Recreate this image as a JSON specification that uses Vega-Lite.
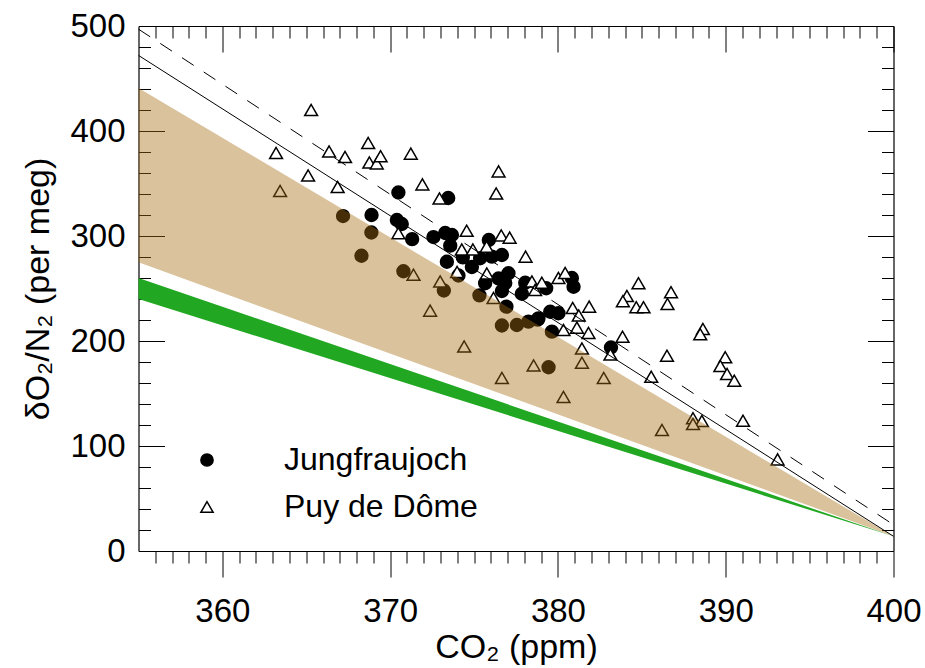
{
  "$schema": "https://vega.github.io/schema/vega-lite/v6.json",
  "autosize": {"type": "none"},
  "padding": {"left": 138.5, "top": 26, "right": 31.5, "bottom": 117},
  "width": 755,
  "height": 525,
  "config": {
    "font": "Liberation Sans",
    "view": {"stroke": null},
    "axis": {"grid": false, "tickColor": "black", "domainColor": "black", "labelColor": "black", "titleColor": "black", "titleFontWeight": "normal", "labelFont": "Liberation Sans", "titleFont": "Liberation Sans"},
    "legend": {"title": null, "orient": "none", "legendX": 52.5, "legendY": 418, "labelFontSize": 32, "labelFont": "Liberation Sans", "labelColor": "black", "labelOffset": 61, "labelLimit": 500, "rowPadding": 15, "symbolStrokeColor": "black", "symbolStrokeWidth": 1.5, "symbolSize": 150, "padding": 0}
  },
  "datasets": {
    "bands": [
      {"x": 355, "tanTop": 441, "tanBot": 275, "greenTop": 260, "greenBot": 240},
      {"x": 400, "tanTop": 14, "tanBot": 14, "greenTop": 14, "greenBot": 14}
    ],
    "lines": [
      {"x": 355, "y": 472, "line": "solid"},
      {"x": 400, "y": 14, "line": "solid"},
      {"x": 355, "y": 497, "line": "dashed"},
      {"x": 400, "y": 25, "line": "dashed"}
    ],
    "obs": [
      {"site": "Jungfraujoch", "ppm": 370.49, "d": 341.4},
      {"site": "Jungfraujoch", "ppm": 373.46, "d": 336.2},
      {"site": "Jungfraujoch", "ppm": 368.89, "d": 320.0},
      {"site": "Jungfraujoch", "ppm": 370.40, "d": 315.2},
      {"site": "Jungfraujoch", "ppm": 370.69, "d": 311.4},
      {"site": "Jungfraujoch", "ppm": 371.31, "d": 297.0},
      {"site": "Jungfraujoch", "ppm": 372.58, "d": 299.0},
      {"site": "Jungfraujoch", "ppm": 373.28, "d": 302.9},
      {"site": "Jungfraujoch", "ppm": 373.68, "d": 301.0},
      {"site": "Jungfraujoch", "ppm": 373.58, "d": 290.8},
      {"site": "Jungfraujoch", "ppm": 373.38, "d": 275.5},
      {"site": "Jungfraujoch", "ppm": 374.33, "d": 279.7},
      {"site": "Jungfraujoch", "ppm": 374.87, "d": 270.5},
      {"site": "Jungfraujoch", "ppm": 375.36, "d": 278.8},
      {"site": "Jungfraujoch", "ppm": 375.88, "d": 296.2},
      {"site": "Jungfraujoch", "ppm": 376.06, "d": 280.3},
      {"site": "Jungfraujoch", "ppm": 376.66, "d": 281.9},
      {"site": "Jungfraujoch", "ppm": 377.05, "d": 264.5},
      {"site": "Jungfraujoch", "ppm": 376.46, "d": 259.5},
      {"site": "Jungfraujoch", "ppm": 376.86, "d": 255.2},
      {"site": "Jungfraujoch", "ppm": 375.66, "d": 255.0},
      {"site": "Jungfraujoch", "ppm": 376.66, "d": 247.6},
      {"site": "Jungfraujoch", "ppm": 378.05, "d": 255.5},
      {"site": "Jungfraujoch", "ppm": 377.85, "d": 245.0},
      {"site": "Jungfraujoch", "ppm": 379.30, "d": 250.2},
      {"site": "Jungfraujoch", "ppm": 380.83, "d": 260.0},
      {"site": "Jungfraujoch", "ppm": 380.93, "d": 251.7},
      {"site": "Jungfraujoch", "ppm": 379.54, "d": 227.9},
      {"site": "Jungfraujoch", "ppm": 380.03, "d": 226.4},
      {"site": "Jungfraujoch", "ppm": 378.84, "d": 221.6},
      {"site": "Jungfraujoch", "ppm": 383.16, "d": 193.8},
      {"site": "Jungfraujoch", "ppm": 367.19, "d": 319.0},
      {"site": "Jungfraujoch", "ppm": 368.88, "d": 303.3},
      {"site": "Jungfraujoch", "ppm": 368.29, "d": 281.2},
      {"site": "Jungfraujoch", "ppm": 370.79, "d": 266.4},
      {"site": "Jungfraujoch", "ppm": 374.07, "d": 262.4},
      {"site": "Jungfraujoch", "ppm": 373.20, "d": 248.1},
      {"site": "Jungfraujoch", "ppm": 375.32, "d": 243.5},
      {"site": "Jungfraujoch", "ppm": 376.93, "d": 232.7},
      {"site": "Jungfraujoch", "ppm": 376.66, "d": 214.8},
      {"site": "Jungfraujoch", "ppm": 377.55, "d": 215.2},
      {"site": "Jungfraujoch", "ppm": 378.24, "d": 218.4},
      {"site": "Jungfraujoch", "ppm": 378.79, "d": 220.3},
      {"site": "Jungfraujoch", "ppm": 379.64, "d": 208.9},
      {"site": "Jungfraujoch", "ppm": 379.44, "d": 175.0},
      {"site": "Puy de Dôme", "ppm": 363.20, "d": 379.0},
      {"site": "Puy de Dôme", "ppm": 365.29, "d": 420.0},
      {"site": "Puy de Dôme", "ppm": 363.44, "d": 342.9},
      {"site": "Puy de Dôme", "ppm": 365.11, "d": 357.6},
      {"site": "Puy de Dôme", "ppm": 366.36, "d": 380.5},
      {"site": "Puy de Dôme", "ppm": 366.87, "d": 346.7},
      {"site": "Puy de Dôme", "ppm": 367.31, "d": 375.2},
      {"site": "Puy de Dôme", "ppm": 368.69, "d": 388.6},
      {"site": "Puy de Dôme", "ppm": 368.76, "d": 370.0},
      {"site": "Puy de Dôme", "ppm": 369.20, "d": 369.2},
      {"site": "Puy de Dôme", "ppm": 369.43, "d": 375.9},
      {"site": "Puy de Dôme", "ppm": 371.23, "d": 378.4},
      {"site": "Puy de Dôme", "ppm": 371.92, "d": 349.2},
      {"site": "Puy de Dôme", "ppm": 372.94, "d": 335.7},
      {"site": "Puy de Dôme", "ppm": 370.49, "d": 302.6},
      {"site": "Puy de Dôme", "ppm": 371.39, "d": 263.1},
      {"site": "Puy de Dôme", "ppm": 372.98, "d": 256.7},
      {"site": "Puy de Dôme", "ppm": 372.38, "d": 228.9},
      {"site": "Puy de Dôme", "ppm": 374.56, "d": 305.0},
      {"site": "Puy de Dôme", "ppm": 374.27, "d": 287.1},
      {"site": "Puy de Dôme", "ppm": 374.93, "d": 287.1},
      {"site": "Puy de Dôme", "ppm": 375.75, "d": 289.8},
      {"site": "Puy de Dôme", "ppm": 373.99, "d": 265.7},
      {"site": "Puy de Dôme", "ppm": 375.76, "d": 264.3},
      {"site": "Puy de Dôme", "ppm": 376.46, "d": 361.6},
      {"site": "Puy de Dôme", "ppm": 376.32, "d": 340.5},
      {"site": "Puy de Dôme", "ppm": 376.62, "d": 300.5},
      {"site": "Puy de Dôme", "ppm": 377.12, "d": 298.4},
      {"site": "Puy de Dôme", "ppm": 378.07, "d": 280.3},
      {"site": "Puy de Dôme", "ppm": 376.16, "d": 241.0},
      {"site": "Puy de Dôme", "ppm": 374.41, "d": 194.8},
      {"site": "Puy de Dôme", "ppm": 376.66, "d": 164.8},
      {"site": "Puy de Dôme", "ppm": 378.45, "d": 256.7},
      {"site": "Puy de Dôme", "ppm": 378.64, "d": 248.6},
      {"site": "Puy de Dôme", "ppm": 379.04, "d": 255.5},
      {"site": "Puy de Dôme", "ppm": 380.03, "d": 260.0},
      {"site": "Puy de Dôme", "ppm": 380.43, "d": 264.8},
      {"site": "Puy de Dôme", "ppm": 380.88, "d": 231.4},
      {"site": "Puy de Dôme", "ppm": 381.24, "d": 224.3},
      {"site": "Puy de Dôme", "ppm": 381.86, "d": 232.7},
      {"site": "Puy de Dôme", "ppm": 380.33, "d": 210.5},
      {"site": "Puy de Dôme", "ppm": 381.13, "d": 212.7},
      {"site": "Puy de Dôme", "ppm": 381.82, "d": 207.6},
      {"site": "Puy de Dôme", "ppm": 383.85, "d": 204.1},
      {"site": "Puy de Dôme", "ppm": 384.11, "d": 242.9},
      {"site": "Puy de Dôme", "ppm": 383.87, "d": 237.8},
      {"site": "Puy de Dôme", "ppm": 383.13, "d": 187.1},
      {"site": "Puy de Dôme", "ppm": 381.43, "d": 192.9},
      {"site": "Puy de Dôme", "ppm": 381.43, "d": 179.3},
      {"site": "Puy de Dôme", "ppm": 378.55, "d": 176.7},
      {"site": "Puy de Dôme", "ppm": 382.73, "d": 164.8},
      {"site": "Puy de Dôme", "ppm": 380.33, "d": 146.7},
      {"site": "Puy de Dôme", "ppm": 384.80, "d": 255.0},
      {"site": "Puy de Dôme", "ppm": 386.74, "d": 246.4},
      {"site": "Puy de Dôme", "ppm": 386.53, "d": 235.2},
      {"site": "Puy de Dôme", "ppm": 384.67, "d": 232.1},
      {"site": "Puy de Dôme", "ppm": 385.10, "d": 232.1},
      {"site": "Puy de Dôme", "ppm": 386.50, "d": 186.0},
      {"site": "Puy de Dôme", "ppm": 385.56, "d": 166.0},
      {"site": "Puy de Dôme", "ppm": 388.64, "d": 211.4},
      {"site": "Puy de Dôme", "ppm": 388.48, "d": 206.4},
      {"site": "Puy de Dôme", "ppm": 389.97, "d": 184.5},
      {"site": "Puy de Dôme", "ppm": 389.68, "d": 176.2},
      {"site": "Puy de Dôme", "ppm": 390.08, "d": 168.6},
      {"site": "Puy de Dôme", "ppm": 390.51, "d": 162.2},
      {"site": "Puy de Dôme", "ppm": 391.03, "d": 124.1},
      {"site": "Puy de Dôme", "ppm": 388.05, "d": 126.4},
      {"site": "Puy de Dôme", "ppm": 388.58, "d": 123.8},
      {"site": "Puy de Dôme", "ppm": 388.05, "d": 121.0},
      {"site": "Puy de Dôme", "ppm": 386.20, "d": 115.2},
      {"site": "Puy de Dôme", "ppm": 393.09, "d": 87.3}
    ]
  },
  "layer": [
    {
      "data": {"name": "bands"},
      "mark": {"type": "area", "color": "#22a722", "opacity": 1},
      "encoding": {
        "x": {"field": "x", "type": "quantitative", "scale": {"domain": [355, 400], "nice": false, "zero": false},
          "axis": {"orient": "bottom", "values": [360, 370, 380, 390, 400], "tickSize": 26, "tickWidth": 1, "domain": true, "domainWidth": 1.2, "labelFontSize": 33, "labelPadding": 18, "title": "CO₂ (ppm)", "titleFontSize": 34, "titlePadding": 2, "labelFlush": false}},
        "y": {"field": "greenTop", "type": "quantitative", "scale": {"domain": [0, 500], "nice": false},
          "axis": {"orient": "left", "values": [0, 100, 200, 300, 400, 500], "tickSize": -26, "tickWidth": 1, "domain": true, "domainWidth": 1.2, "labelFontSize": 33, "labelPadding": 39.5, "title": "δO₂/N₂ (per meg)", "titleFontSize": 34, "titlePadding": 14, "labelFlush": false}},
        "y2": {"field": "greenBot"}
      }
    },
    {
      "data": {"name": "obs"},
      "mark": {"type": "point", "filled": true, "stroke": "black", "strokeWidth": 1.5, "size": 165, "opacity": 1},
      "encoding": {
        "x": {"field": "ppm", "type": "quantitative",
          "axis": {"orient": "bottom", "values": [356,357,358,359,361,362,363,364,365,366,367,368,369,371,372,373,374,375,376,377,378,379,381,382,383,384,385,386,387,388,389,391,392,393,394,395,396,397,398,399], "tickSize": 12, "tickWidth": 1, "domain": false, "labels": false, "title": null}},
        "y": {"field": "d", "type": "quantitative",
          "axis": {"orient": "left", "values": [20,40,60,80,120,140,160,180,220,240,260,280,320,340,360,380,420,440,460,480], "tickSize": -12, "tickWidth": 1, "domain": false, "labels": false, "title": null}},
        "shape": {"field": "site", "type": "nominal", "scale": {"domain": ["Jungfraujoch", "Puy de Dôme"], "range": ["circle", "triangle-up"]}},
        "color": {"field": "site", "type": "nominal", "scale": {"domain": ["Jungfraujoch", "Puy de Dôme"], "range": ["black", "white"]}}
      }
    },
    {
      "data": {"name": "bands"},
      "mark": {"type": "area", "color": "#a86e14", "opacity": 0.42},
      "encoding": {
        "x": {"field": "x", "type": "quantitative",
          "axis": {"orient": "top", "values": [360, 370, 380, 390, 400], "tickSize": -26, "tickWidth": 1, "domain": true, "domainWidth": 1.2, "labels": false, "title": null}},
        "y": {"field": "tanTop", "type": "quantitative",
          "axis": {"orient": "right", "values": [0, 100, 200, 300, 400, 500], "tickSize": -26, "tickWidth": 1, "domain": true, "domainWidth": 1.2, "labels": false, "title": null}},
        "y2": {"field": "tanBot"}
      }
    },
    {
      "data": {"name": "lines"},
      "transform": [{"filter": "datum.line === 'solid'"}],
      "mark": {"type": "line", "color": "black", "strokeWidth": 1},
      "encoding": {
        "x": {"field": "x", "type": "quantitative",
          "axis": {"orient": "top", "values": [356,357,358,359,361,362,363,364,365,366,367,368,369,371,372,373,374,375,376,377,378,379,381,382,383,384,385,386,387,388,389,391,392,393,394,395,396,397,398,399], "tickSize": -12, "tickWidth": 1, "domain": false, "labels": false, "title": null}},
        "y": {"field": "y", "type": "quantitative",
          "axis": {"orient": "right", "values": [20,40,60,80,120,140,160,180,220,240,260,280,320,340,360,380,420,440,460,480], "tickSize": -12, "tickWidth": 1, "domain": false, "labels": false, "title": null}}
      }
    },
    {
      "data": {"name": "lines"},
      "transform": [{"filter": "datum.line === 'dashed'"}],
      "mark": {"type": "line", "color": "black", "strokeWidth": 1, "strokeDash": [14, 12]},
      "encoding": {
        "x": {"field": "x", "type": "quantitative", "axis": null},
        "y": {"field": "y", "type": "quantitative", "axis": null}
      }
    }
  ],
  "resolve": {"axis": {"x": "independent", "y": "independent"}}
}
